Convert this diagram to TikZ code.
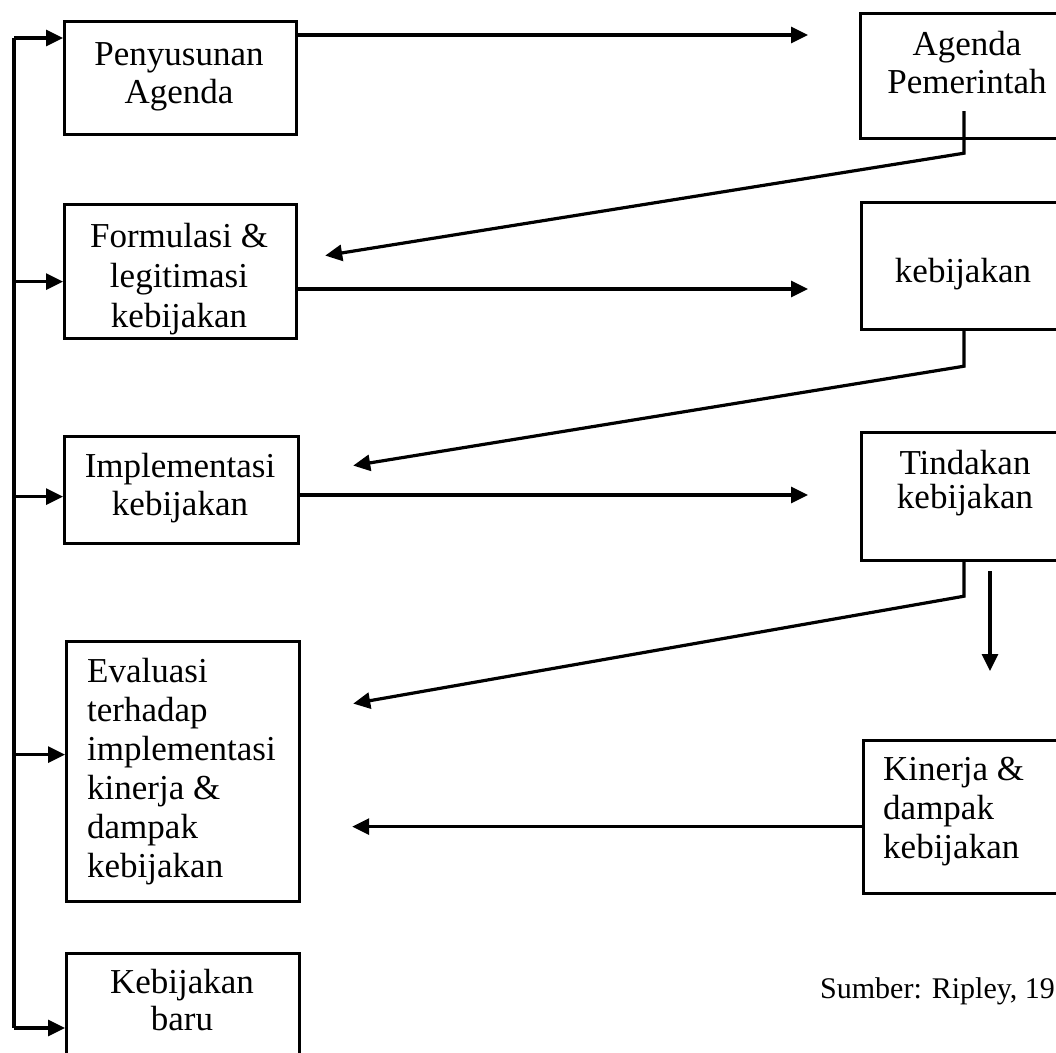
\documentclass[tikz,border=0pt]{standalone}
\usepackage{fontspec}
\setmainfont{Liberation Serif}
\usetikzlibrary{arrows.meta,calc}
\tikzset{
  box/.style={draw, line width=3.2pt, inner sep=0pt, anchor=north west},
  txt/.style={inner sep=0pt, align=center, anchor=north,
    font=\fontsize{35}{#1}\selectfont},
  txt/.default=39,
  txtl/.style={txt=#1, align=left, anchor=north west},
  txtl/.default=39,
  ln/.style={line width=3.2pt},
  arr/.style={line width=3.2pt, -{Triangle[length=17pt,width=16pt]}}
}
\newcommand{\fs}{\rule{0pt}{26pt}}
\lineskiplimit=-1000pt
\lineskip=0pt
\begin{document}
\begin{tikzpicture}[x=1pt,y=1pt]
\useasboundingbox (0,0) rectangle (1056,-1052);
\clip (0,0) rectangle (1056,-1052);
% left boxes
\node[box, minimum width=232pt, minimum height=113pt] (b1) at (63,-20) {};
\node[box, minimum width=232pt, minimum height=134pt] (b2) at (63,-203) {};
\node[box, minimum width=234pt, minimum height=107pt] (b3) at (63,-435) {};
\node[box, minimum width=233pt, minimum height=260pt] (b4) at (65,-640) {};
\node[box, minimum width=233pt, minimum height=150pt] (b5) at (65,-952) {};
% right boxes
\node[box, minimum width=260pt, minimum height=125pt] (a1) at (859,-12) {};
\node[box, minimum width=260pt, minimum height=127pt] (kb) at (860,-201) {};
\node[box, minimum width=260pt, minimum height=128pt] (c1) at (860,-431) {};
\node[box, minimum width=260pt, minimum height=153pt] (d1) at (862,-739) {};
% texts
\node[txt=38] (t1) at (179,-39) {\fs Penyusunan\\Agenda};
\node[txt=38] (t2) at (967,-29) {\fs Agenda\\Pemerintah};
\node[txt=40] (t3) at (179,-221) {\fs Formulasi \&\\legitimasi\\kebijakan};
\node[txt] (t4) at (963,-256) {\fs kebijakan};
\node[txt=38] (t5) at (180,-451) {\fs Implementasi\\kebijakan};
\node[txt=34] (t6) at (965,-448) {\fs Tindakan\\kebijakan};
\node[txtl] (t7) at (87,-656) {\fs Evaluasi\\terhadap\\implementasi\\kinerja \&\\dampak\\kebijakan};
\node[txtl] (t8) at (883,-754) {\fs Kinerja \&\\dampak\\kebijakan};
\node[txt=37] (t9) at (182,-967) {\fs Kebijakan\\baru};
\node[anchor=base west, inner sep=0pt, font=\fontsize{30}{36}\selectfont] (src) at (820,-998) {Sumber: Ripley, 19};
% feedback bus
\coordinate (bt) at (14,-38);
\coordinate (bb) at (14,-1028);
\draw[ln] (bt) -- (bb);
\draw[arr] (bt) -- (bt -| b1.west);
\draw[arr] ($(bt |- b2.west)+(0,-10pt)$) -- ($(b2.west)+(0,-10pt)$);
\draw[arr] ($(bt |- b3.west)+(0,-6.5pt)$) -- ($(b3.west)+(0,-6.5pt)$);
\draw[arr] ($(bt |- b4.west)+(0,17pt)$) -- ($(b4.west)+(0,17pt)$);
\draw[arr] (bb) -- (bb -| b5.west);
% horizontal arrows
\coordinate (r1) at ($(b1.north east)+(0,-15pt)$);
\coordinate (r2) at ($(b2.north east)+(0,-86pt)$);
\coordinate (r3) at ($(b3.north east)+(0,-60pt)$);
\draw[arr, shorten >=51pt] (r1) -- (r1 -| a1.west);
\draw[arr, shorten >=52pt] (r2) -- (r2 -| kb.west);
\draw[arr, shorten >=52pt] (r3) -- (r3 -| c1.west);
% diagonal return arrows
\draw[arr] ($(a1.south west)+(105pt,29pt)$) -- ++(0,-42pt) -- ($(b2.east)+(27pt,16pt)$);
\draw[arr] ($(kb.south west)+(104pt,0pt)$) -- ++(0,-35pt) -- ($(b3.east)+(53pt,24.5pt)$);
\draw[arr] ($(c1.south west)+(104pt,0pt)$) -- ++(0,-34pt) -- ($(b4.east)+(52pt,68pt)$);
% down arrow
\coordinate (dn) at ($(c1.south west)+(130pt,-9pt)$);
\draw[arr, shorten >=68pt] (dn) -- (dn |- d1.north);
% kinerja arrow
\coordinate (kn) at ($(d1.west)+(0,-9.5pt)$);
\draw[arr, shorten >=51pt] (kn) -- (kn -| b4.east);
\end{tikzpicture}
\end{document}
